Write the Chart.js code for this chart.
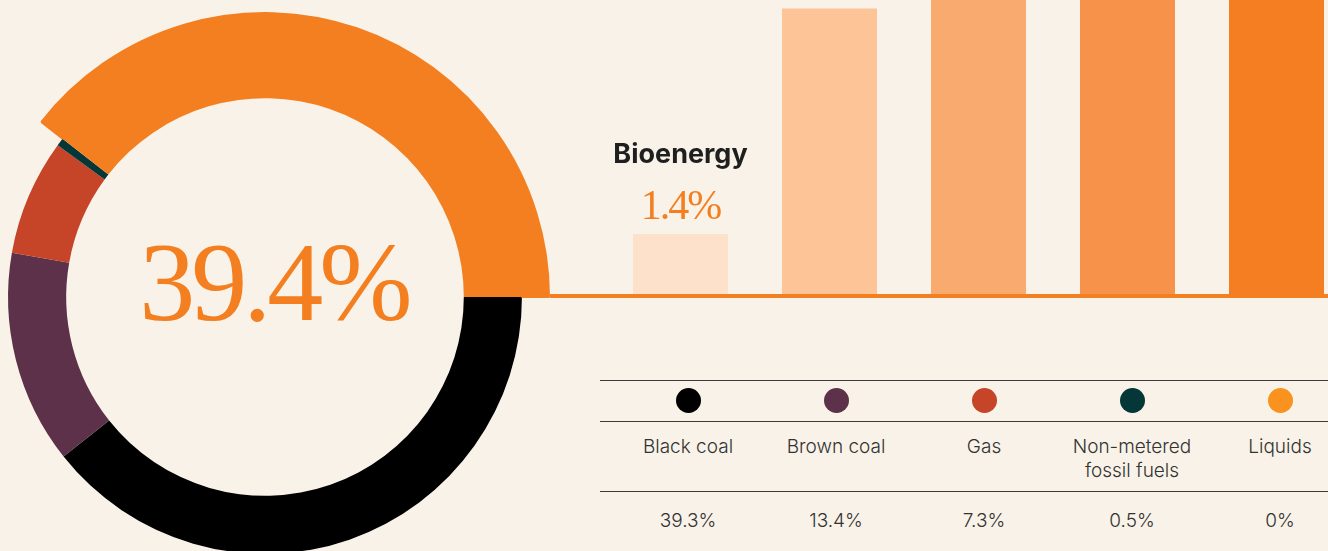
<!DOCTYPE html>
<html>
<head>
<meta charset="utf-8">
<script src="https://cdn.jsdelivr.net/npm/chart.js@4/dist/chart.umd.min.js"></script>
<style>
  html, body { margin: 0; padding: 0; }
  body {
    width: 1328px; height: 551px; overflow: hidden; position: relative;
    background: #f9f2e8; font-family: Inter, 'Noto Sans', sans-serif;
  }
  #donut { position: absolute; left: -35px; top: -3px; }
  #bars { position: absolute; left: 550px; top: 0; }
  #bigValue {
    position: absolute; left: 74px; top: 226px; width: 400px; text-align: center;
    font-family: 'Liberation Serif', serif; font-size: 112px; line-height: 112px;
    letter-spacing: -4px; color: #f47f20;
  }
  #mixTable { position: absolute; left: 600px; top: 380px; width: 728px; height: 171px; }
  .rule { position: absolute; left: 0; width: 728px; height: 1px; background: #3a3a3a; }
  .cell { position: absolute; width: 148px; text-align: center; color: #333; font-size: 19px; font-weight: 300; line-height: 24px; }
  .dot { display: inline-block; width: 25px; height: 25px; border-radius: 50%; }
</style>
</head>
<body>
<canvas id="donut" width="600" height="600"></canvas>
<canvas id="bars" width="801" height="300"></canvas>
<div id="bigValue"></div>
<div id="mixTable"></div>

<script>
// fossil vs renewable mix
const mixLabels = ['Black coal', 'Brown coal', 'Gas', 'Non-metered\nfossil fuels', 'Liquids', 'Renewables'];
const mixValues = [39.3, 13.4, 7.3, 0.5, 0, 39.4];
const mixColors = ['#000000', '#5c3149', '#c64427', '#053638', '#f9921e', '#f47f20'];

// renewables breakdown (only bioenergy is labelled, rest run off the top)
const renewLabels = ['Bioenergy', 'Hydro', 'Utility solar', 'Wind', 'Rooftop solar'];
const renewValues = [1.4, 6.65, 8.2, 11.0, 12.15];
const renewColors = ['#fde1cb', '#fdc498', '#f9aa6e', '#f7924a', '#f47e21'];

const orange = '#f47f20';

document.getElementById('bigValue').textContent = mixValues[5] + '%';

// doughnut: outer ring only shows renewables so that slice looks thicker
new Chart(document.getElementById('donut'), {
    type: 'doughnut',
    data: {
        labels: mixLabels,
        datasets: [{
            data: mixValues,
            backgroundColor: mixColors.map((c, i) => i === 5 ? c : 'rgba(0,0,0,0)'),
            borderColor: mixColors.map((c, i) => i === 5 ? c : 'rgba(0,0,0,0)'),
            borderWidth: mixValues.map((v, i) => i === 5 ? 2 : 0),
            weight: 27
        }, {
            data: mixValues,
            backgroundColor: mixColors,
            borderWidth: 0,
            weight: 58
        }]
    },
    options: {
        responsive: false,
        animation: false,
        rotation: 90,
        radius: 284,
        cutout: '70%',
        events: [],
        plugins: { legend: { display: false }, tooltip: { enabled: false } }
    }
});

const baseLine = {
    id: 'baseLine',
    afterDatasetsDraw(chart) {
        const ctx = chart.ctx;
        const y0 = chart.scales.y.getPixelForValue(0);
        ctx.save();
        ctx.fillStyle = orange;
        ctx.fillRect(0, y0, chart.width, 4);
        ctx.restore();
    }
};

const bioLabel = {
    id: 'bioLabel',
    afterDraw(chart) {
        const bar = chart.getDatasetMeta(0).data[0];
        const ctx = chart.ctx;
        ctx.save();
        ctx.textAlign = 'center';
        ctx.textBaseline = 'alphabetic';
        ctx.fillStyle = orange;
        ctx.font = '42px "Liberation Serif"';
        ctx.letterSpacing = '-2px';
        ctx.fillText(renewValues[0] + '%', bar.x, bar.y - 15);
        ctx.fillStyle = '#1f1f1f';
        ctx.font = 'bold 27px Inter';
        ctx.letterSpacing = '0px';
        ctx.fillText(renewLabels[0], bar.x, bar.y - 71);
        ctx.restore();
    }
};

new Chart(document.getElementById('bars'), {
    type: 'bar',
    data: {
        labels: renewLabels,
        datasets: [{
            data: renewValues,
            backgroundColor: renewColors,
            borderWidth: 0,
            categoryPercentage: 1,
            barPercentage: 95 / 149
        }]
    },
    options: {
        responsive: false,
        animation: false,
        events: [],
        layout: { padding: { left: 56, bottom: 6 } },
        scales: {
            x: { display: false },
            y: { display: false, min: 0, max: 6.85 }
        },
        plugins: { legend: { display: false }, tooltip: { enabled: false } }
    },
    plugins: [baseLine, bioLabel]
});

// table under the bars
const table = document.getElementById('mixTable');
[0, 41, 111].forEach(function(top) {
    const r = document.createElement('div');
    r.className = 'rule';
    r.style.top = top + 'px';
    table.appendChild(r);
});
for (let i = 0; i < 5; i++) {
    const left = 14 + 148 * i;
    const dotCell = document.createElement('div');
    dotCell.className = 'cell';
    dotCell.style.left = left + 'px';
    dotCell.style.top = '8px';
    dotCell.innerHTML = '<span class="dot" style="background:' + mixColors[i] + '"></span>';
    table.appendChild(dotCell);

    const nameCell = document.createElement('div');
    nameCell.className = 'cell';
    nameCell.style.left = left + 'px';
    nameCell.style.top = '55px';
    nameCell.innerHTML = mixLabels[i].replace('\n', '<br>');
    table.appendChild(nameCell);

    const valCell = document.createElement('div');
    valCell.className = 'cell';
    valCell.style.left = left + 'px';
    valCell.style.top = '129px';
    valCell.textContent = mixValues[i] + '%';
    table.appendChild(valCell);
}
</script>
</body>
</html>
